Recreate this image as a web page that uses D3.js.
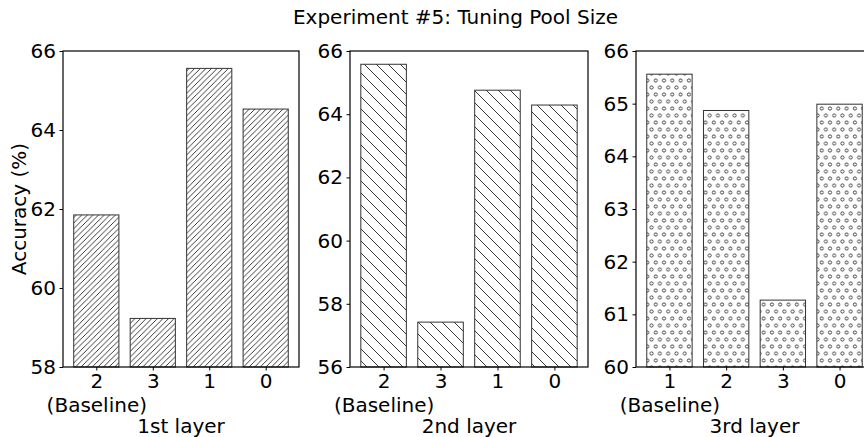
<!DOCTYPE html>
<html>
<head>
<meta charset="utf-8">
<script src="https://cdn.jsdelivr.net/npm/d3@7"></script>
<style>
  body { margin: 0; background: #fff; }
  text { font-family: "DejaVu Sans", sans-serif; }
</style>
</head>
<body>
<div id="d3-container"></div>
<script>
// data
const layers = ["1st layer", "2nd layer", "3rd layer"];
const poolSizes1 = ["2", "3", "1", "0"];
const poolSizes2 = ["2", "3", "1", "0"];
const poolSizes3 = ["1", "2", "3", "0"];
const accuracy1 = [61.85, 59.23, 65.56, 64.53];
const accuracy2 = [65.58, 57.42, 64.76, 64.29];
const accuracy3 = [65.56, 64.87, 61.27, 64.99];
const yTicks1 = [58, 60, 62, 64, 66];
const yTicks2 = [56, 58, 60, 62, 64, 66];
const yTicks3 = [60, 61, 62, 63, 64, 65, 66];
const baselineIndex = 0; // first bar of each panel is the baseline

const width = 864;
const height = 437;
const plotTop = 51, plotBottom = 367;

const svg = d3.select('#d3-container')
    .append('svg')
    .attr('width', width)
    .attr('height', height);

// hatch patterns
const defs = svg.append('defs');

// "////" dense forward slash
const s1 = 5.6;
defs.append('pattern')
    .attr('id', 'hatch-fwd')
    .attr('patternUnits', 'userSpaceOnUse')
    .attr('width', s1).attr('height', s1)
  .append('path')
    .attr('d', `M0,${s1} L${s1},0 M${-1},1 L1,${-1} M${s1 - 1},${s1 + 1} L${s1 + 1},${s1 - 1}`)
    .attr('stroke', '#222').attr('stroke-width', 0.9);

// "\\" coarse back slash
const s2 = 12;
defs.append('pattern')
    .attr('id', 'hatch-back')
    .attr('patternUnits', 'userSpaceOnUse')
    .attr('width', s2).attr('height', s2)
  .append('path')
    .attr('d', `M0,0 L${s2},${s2} M${-1},${s2 - 1} L1,${s2 + 1} M${s2 - 1},${-1} L${s2 + 1},1`)
    .attr('stroke', '#222').attr('stroke-width', 0.9);

// "o" small circles, staggered rows
const cw = 8.3, ch = 14;
const circ = defs.append('pattern')
    .attr('id', 'hatch-circ')
    .attr('patternUnits', 'userSpaceOnUse')
    .attr('width', cw).attr('height', ch);
[[cw / 2, ch / 4], [0, ch * 3 / 4], [cw, ch * 3 / 4]].forEach(([cx, cy]) => {
  circ.append('circle')
      .attr('cx', cx).attr('cy', cy).attr('r', 1.6)
      .attr('fill', 'none').attr('stroke', '#222').attr('stroke-width', 0.8);
});

const panels = [
  {left: 63,  right: 299, cats: poolSizes1, vals: accuracy1, ticks: yTicks1, fill: 'url(#hatch-fwd)'},
  {left: 350, right: 588, cats: poolSizes2, vals: accuracy2, ticks: yTicks2, fill: 'url(#hatch-back)'},
  {left: 636, right: 873, cats: poolSizes3, vals: accuracy3, ticks: yTicks3, fill: 'url(#hatch-circ)'}
];

panels.forEach((p, k) => {
  const x = d3.scaleLinear()
      .domain([-0.59, p.cats.length - 1 + 0.59])
      .range([p.left, p.right]);
  const y = d3.scaleLinear()
      .domain(d3.extent(p.ticks))
      .range([plotBottom, plotTop]);
  const bw = x(0.8) - x(0);

  const g = svg.append('g');

  g.append('g')
    .selectAll('rect')
    .data(p.vals)
    .join('rect')
      .attr('x', (d, i) => x(i) - bw / 2)
      .attr('y', d => y(d))
      .attr('width', bw)
      .attr('height', d => y(y.domain()[0]) - y(d))
      .attr('fill', p.fill)
      .attr('stroke', '#333')
      .attr('stroke-width', 1);

  // frame
  g.append('rect')
      .attr('x', p.left).attr('y', plotTop)
      .attr('width', p.right - p.left).attr('height', plotBottom - plotTop)
      .attr('fill', 'none').attr('stroke', '#000').attr('stroke-width', 1.2);

  g.append('g')
      .attr('transform', `translate(${p.left},0)`)
      .call(d3.axisLeft(y).tickValues(p.ticks).tickFormat(d3.format('d'))
            .tickSize(3.5).tickPadding(3.5))
      .call(a => a.select('.domain').remove())
      .call(a => a.selectAll('text').attr('font-size', 20).attr('fill', '#000')
                  .attr('font-family', 'DejaVu Sans'));

  const xa = g.append('g')
      .attr('transform', `translate(0,${plotBottom})`)
      .call(d3.axisBottom(x).tickValues(d3.range(p.cats.length)).tickFormat(i => p.cats[i])
            .tickSize(3.5).tickPadding(3.5))
      .call(a => a.select('.domain').remove())
      .call(a => a.selectAll('text').attr('font-size', 20).attr('fill', '#000')
                  .attr('font-family', 'DejaVu Sans'));

  xa.selectAll('.tick')
    .filter(i => i === baselineIndex)
    .append('text')
      .attr('y', 7 + 24)
      .attr('dy', '0.71em')
      .attr('fill', '#000')
      .attr('font-size', 20)
      .attr('font-family', 'DejaVu Sans')
      .text('(Baseline)');

  g.append('text')
      .attr('x', (p.left + p.right) / 2)
      .attr('y', 432.5)
      .attr('text-anchor', 'middle')
      .attr('font-size', 20)
      .text(layers[k]);
});

svg.append('text')
    .attr('transform', 'translate(26,209) rotate(-90)')
    .attr('text-anchor', 'middle')
    .attr('font-size', 20)
    .text('Accuracy (%)');

svg.append('text')
    .attr('x', 455.5)
    .attr('y', 23.5)
    .attr('text-anchor', 'middle')
    .attr('font-size', 20)
    .text('Experiment #5: Tuning Pool Size');
</script>
</body>
</html>
